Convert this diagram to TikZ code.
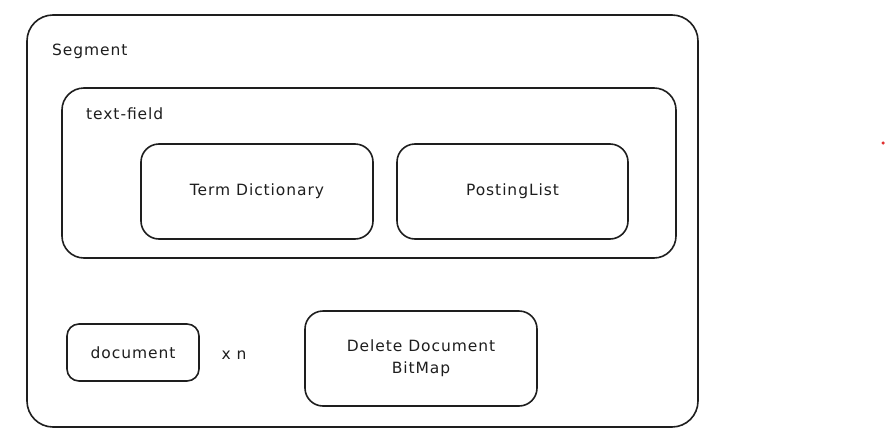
\documentclass[tikz,border=0pt]{standalone}
\usepackage{fontspec}
\setmainfont{DejaVu Sans}[LetterSpace=6]
\usetikzlibrary{positioning}
\definecolor{dot_red}{HTML}{E03131}
\definecolor{ink}{HTML}{1E1E1E}

\tikzset{
  box/.style={draw=ink, line width=1.6pt, rounded corners=18pt, inner sep=0pt, align=center,
    font=\fontsize{15.5}{22}\selectfont, text=ink},
  lbl/.style={font=\fontsize{15.5}{22}\selectfont, inner sep=0pt, text=ink},
}

\begin{document}
\begin{tikzpicture}[x=1pt, y=-1pt]
  \useasboundingbox (0,0) rectangle (886,434);
  % segment container
  \node[box, rounded corners=26pt, minimum width=671pt, minimum height=412pt] (segment) at (362.5,221) {};
  \node[lbl, anchor=west] (segment_lbl) at (52,51) {Segment};
  % text field
  \node[box, rounded corners=22pt, minimum width=614pt, minimum height=170pt] (textfield) at (369,173) {};
  \node[lbl, anchor=west] (textfield_lbl) at (86,114) {text-field};
  \node[box, minimum width=232pt, minimum height=95pt] (termdict) at (257,191.5) {Term Dictionary};
  \node[box, minimum width=231pt, minimum height=95pt] (posting) at (512.5,191.5) {PostingList};
  % bottom row
  \node[box, rounded corners=12pt, minimum width=132pt, minimum height=57pt] (document) at (133,352.5) {document};
  \node[lbl] (times_n) at (234,355) {x n};
  \node[box, minimum width=232pt, minimum height=95pt] (bitmap) at (421,358.5) {Delete Document\\BitMap};
  % stray dot
  \node[circle, fill=dot_red, inner sep=0pt, minimum size=3.5pt] (dot) at (883,143) {};
\end{tikzpicture}
\end{document}
